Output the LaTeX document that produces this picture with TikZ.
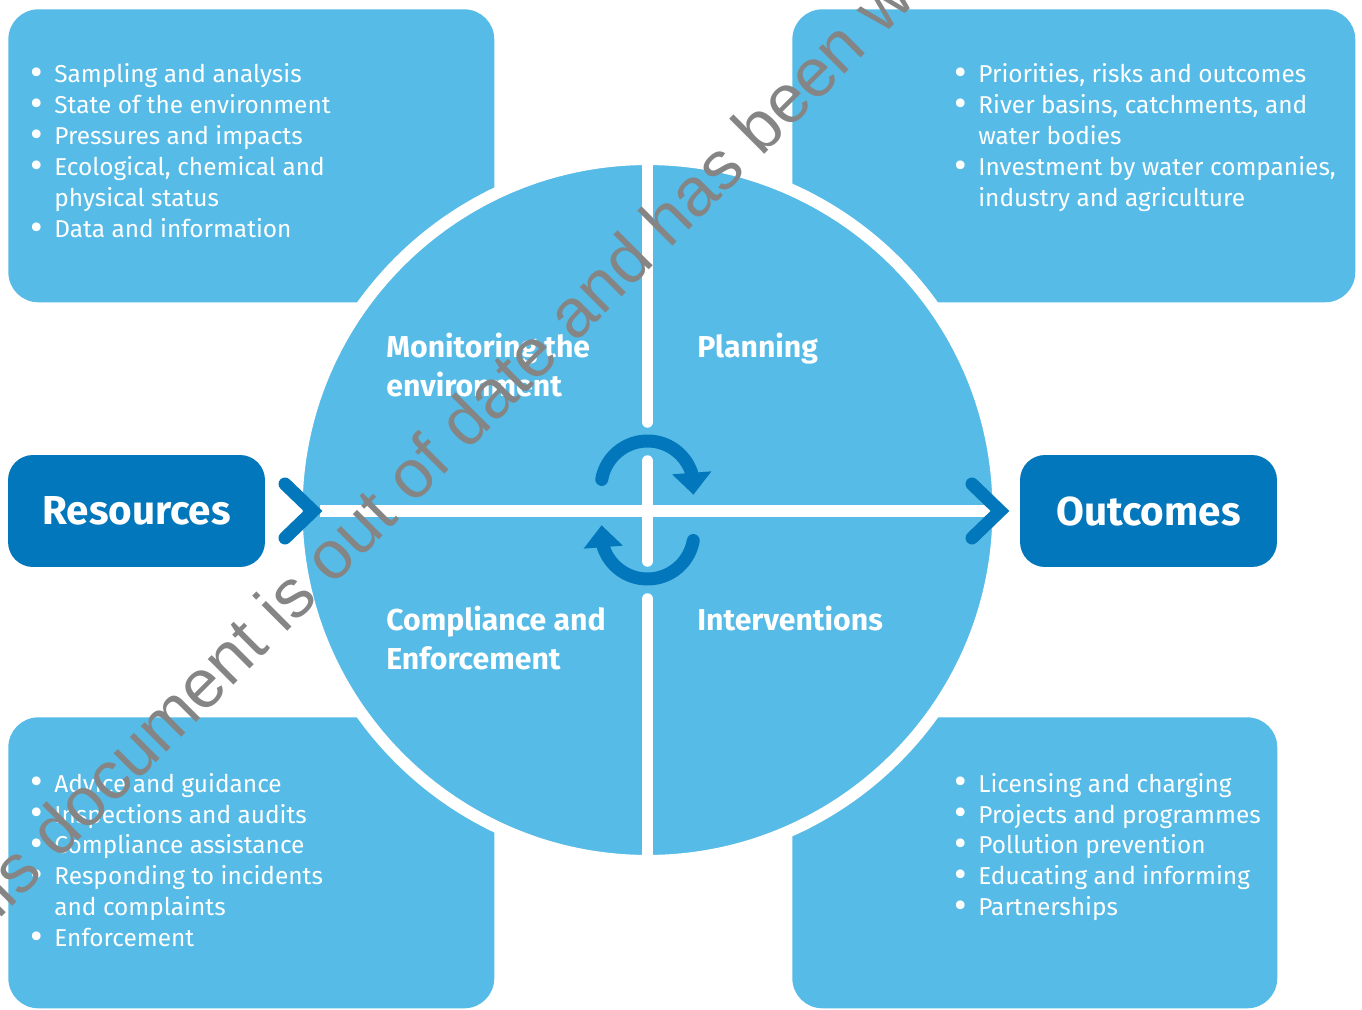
\documentclass[tikz,border=0pt]{standalone}
\usepackage{fontspec}
\setmainfont{Fira Sans}
\newfontfamily\stampfont{Liberation Sans}
\usetikzlibrary{arrows.meta,bending}

\definecolor{skyblue}{RGB}{86,187,230}
\definecolor{seablue}{RGB}{3,119,187}
\definecolor{stampgrey}{RGB}{133,133,133}

% bullet lists and headings, first baseline on the node base
\newcommand{\lst}[1]{\begin{tabular}[t]{@{}l@{}}#1\end{tabular}}
\newcommand{\bl}{\makebox[0.48cm][l]{\raisebox{-1.6pt}{\fontsize{22}{22}\selectfont\textbullet}}}
\newcommand{\ind}{\hspace*{0.48cm}}

\begin{document}
\begin{tikzpicture}[x=0.02cm,y=-0.02cm,
    panel/.style={fill=skyblue, rounded corners=0.6cm, anchor=north west, inner sep=0pt},
    endbox/.style={fill=seablue, rounded corners=0.5cm, minimum width=5.14cm, minimum height=2.24cm,
        text=white, font=\fontsize{23}{27}\selectfont\bfseries},
    items/.style={anchor=base west, inner sep=0pt, text=white, font=\fontsize{13.9}{17.64}\selectfont},
    stage/.style={anchor=base west, inner sep=0pt, text=white, font=\fontsize{17.2}{22.2}\selectfont\bfseries},
    bar/.style={white, line width=0.23cm, line cap=round},
    chevron/.style={seablue, line width=0.26cm, line cap=round, miter limit=10},
    turn/.style={seablue, line width=0.26cm, line cap=round, -{Triangle[width=0.76cm,length=0.44cm]}}]

    \useasboundingbox (0,0) rectangle (1362,1010);

    % corner panels
    \node[panel, minimum width=9.72cm, minimum height=5.86cm] (monbox) at (8,9) {};
    \node[panel, minimum width=11.26cm, minimum height=5.86cm] (planbox) at (792,9) {};
    \node[panel, minimum width=9.72cm, minimum height=5.82cm] (compbox) at (8,717) {};
    \node[panel, minimum width=9.7cm, minimum height=5.82cm] (intbox) at (792,717) {};

    % the wheel
    \node[circle, fill=skyblue, draw=white, line width=0.24cm, minimum size=14.04cm, inner sep=0pt] (wheel) at (647.5,510) {};

    \draw[bar] (647.5,150) -- (647.5,422);
    \draw[bar] (647.5,461) -- (647.5,561);
    \draw[bar] (647.5,599) -- (647.5,870);
    \draw[bar, line cap=butt] (320,511) -- (1000,511);

    % turning arrows in the middle
    \draw[turn] (647.5,487.5) ++(-170:46.5) arc[start angle=-170, end angle=9, radius=46.5];
    \draw[turn] (647.5,532.5) ++(10:46.5) arc[start angle=10, end angle=189, radius=46.5];

    % quarter headings
    \node[stage] (mon) at (386,357) {\lst{Monitoring the\\environment}};
    \node[stage] (plan) at (697,357) {\lst{Planning}};
    \node[stage] (comp) at (386,630) {\lst{Compliance and\\Enforcement}};
    \node[stage] (int) at (697,630) {\lst{Interventions}};

    % input and output
    \node[endbox] (res) at (136.5,511) {Resources};
    \node[endbox] (out) at (1148.5,511) {Outcomes};
    \draw[chevron] (285,484) -- (313,511) -- (285,538);
    \draw[chevron] (972,484) -- (1000,511) -- (972,538);

    % lists
    \node[items] (monlist) at (30,83) {\lst{\bl Sampling and analysis\\
        \bl State of the environment\\
        \bl Pressures and impacts\\
        \bl Ecological, chemical and\\
        \ind physical status\\
        \bl Data and information}};
    \node[items] (planlist) at (954,83) {\lst{\bl Priorities, risks and outcomes\\
        \bl River basins, catchments, and\\
        \ind water bodies\\
        \bl Investment by water companies,\\
        \ind industry and agriculture}};
    \node[items] (complist) at (30,792) {\lst{\bl Advice and guidance\\
        \bl Inspections and audits\\
        \bl Compliance assistance\\
        \bl Responding to incidents\\
        \ind and complaints\\
        \bl Enforcement}};
    \node[items] (intlist) at (954,792) {\lst{\bl Licensing and charging\\
        \bl Projects and programmes\\
        \bl Pollution prevention\\
        \bl Educating and informing\\
        \bl Partnerships}};

    % stamp across the page
    \node[anchor=base west, inner sep=0pt, rotate=45, text=stampgrey, font=\fontsize{39}{44}\stampfont] (stamp)
        at (-47,966) {This document is out of date and has been withdrawn};
\end{tikzpicture}
\end{document}
